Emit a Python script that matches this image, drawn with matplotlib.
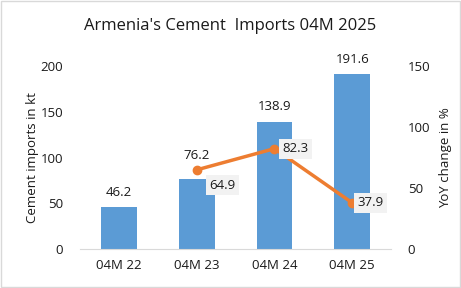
import numpy as np
import matplotlib.pyplot as plt

plt.rcParams['font.family'] = ['Open Sans', 'DejaVu Sans']

periods = ['04M 22', '04M 23', '04M 24', '04M 25']
imports_kt = [46.2, 76.2, 138.9, 191.6]
yoy_periods = ['04M 23', '04M 24', '04M 25']
yoy_change = [64.9, 82.3, 37.9]
# label offsets above each bar, in points
bar_label_offsets = [10, 17, 11, 10]
# label offsets for the YoY labels, in points (x, y)
yoy_offsets = [(9, -11), (6, 0), (4, 0)]

fig = plt.figure(figsize=(4.61, 2.88), dpi=100)
ax1 = fig.add_axes([0.1735, 0.135, 0.675, 0.636])
x = np.arange(len(periods))
ax1.bar(x, imports_kt, width=0.46, color='#5B9BD5', zorder=2)
for xi, v, off in zip(x, imports_kt, bar_label_offsets):
    ax1.annotate('{:.1f}'.format(v), (xi, v), xytext=(0, off), textcoords='offset points',
                 ha='center', va='center', fontsize=9.5, color='#1a1a1a')
ax1.set_ylim(0, 200)
ax1.set_xlim(-0.5, 3.5)
ax1.set_yticks([0, 50, 100, 150, 200])
ax1.set_xticks(x)
ax1.set_xticklabels(periods)
ax1.set_ylabel('Cement imports in kt', fontsize=9.5, color='#1a1a1a', labelpad=1)
for s in ['top', 'right', 'left']:
    ax1.spines[s].set_visible(False)
ax1.spines['bottom'].set_color('#d9d9d9')
ax1.tick_params(length=0, labelsize=9.5, colors='#1a1a1a')
ax1.tick_params(axis='y', pad=12)
ax1.tick_params(axis='x', pad=7)

ax2 = ax1.twinx()
xl = [periods.index(p) for p in yoy_periods]
ax2.plot(xl, yoy_change, color='#ED7D31', lw=2.5, marker='o', ms=6, zorder=3)
for xi, v, off in zip(xl, yoy_change, yoy_offsets):
    ax2.annotate('{:.1f}'.format(v), (xi, v), xytext=off, textcoords='offset points',
                 ha='left', va='center', fontsize=9.5, color='#1a1a1a',
                 bbox=dict(facecolor='#f2f2f2', edgecolor='none', pad=2.5))
ax2.set_ylim(0, 150)
ax2.set_yticks([0, 50, 100, 150])
ax2.set_ylabel('YoY change in %', fontsize=9.5, color='#1a1a1a', labelpad=6)
for s in ax2.spines.values():
    s.set_visible(False)
ax2.tick_params(length=0, labelsize=9.5, colors='#1a1a1a', pad=12)

fig.text(0.5, 0.91, "Armenia's Cement  Imports 04M 2025", ha='center', va='center', fontsize=12, color='#1a1a1a')
fig.patches.append(plt.Rectangle((0.002, 0.003), 0.995, 0.993, transform=fig.transFigure,
                                 fill=False, edgecolor='#d9d9d9', lw=1))
fig.savefig('out.png', dpi=100)
